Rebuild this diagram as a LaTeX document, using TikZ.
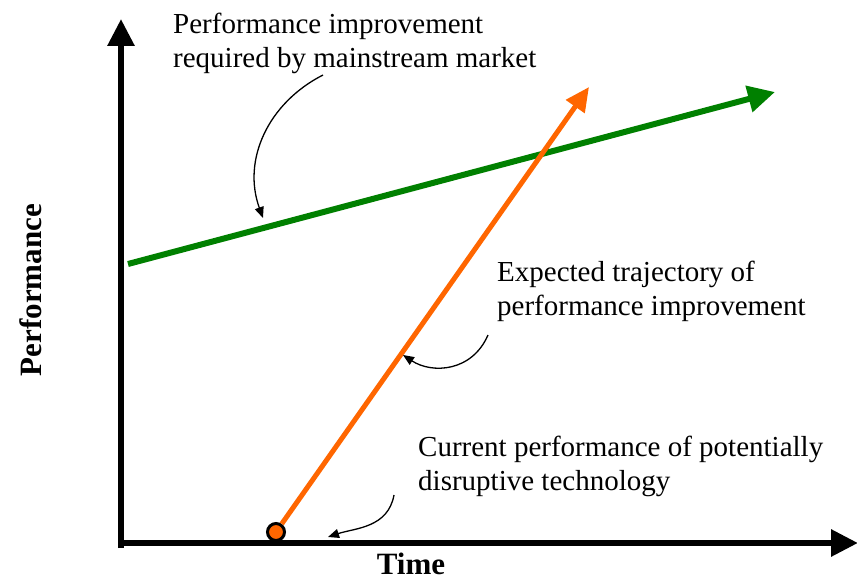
\documentclass[tikz,border=0pt]{standalone}
\usepackage{fontspec}
\setmainfont{Liberation Serif}
\usetikzlibrary{arrows.meta}
\definecolor{mygreen}{RGB}{0,128,0}
\definecolor{myorange}{RGB}{255,102,0}
\begin{document}
\begin{tikzpicture}[x=1pt,y=-1pt,
  lbl/.style={inner sep=0pt,anchor=base west,align=left,font=\fontsize{29}{34}\selectfont},
  axislbl/.style={inner sep=0pt,font=\fontsize{31}{36}\selectfont\bfseries},
  axis/.style={line width=6pt,-{Triangle[length=27pt,width=26pt]}},
  note/.style={line width=1.3pt,-{Triangle[length=11pt,width=9pt]}}]
\useasboundingbox (0,0) rectangle (857,586);
% axes
\coordinate (ytop) at (121,19);
\coordinate (xend) at (858,543);
\draw[axis] (121,548) -- (ytop);
\draw[axis] (118,543) -- (xend);
% axis labels
\node[axislbl,rotate=90] (perf) at (31,290) {Performance};
\node[axislbl,anchor=base] (time) at (411,574) {Time};
% green line
\coordinate (g0) at (128,264);
\coordinate (g1) at (775,92);
\draw[mygreen,line width=6pt,-{Triangle[length=27pt,width=26pt]}] (g0) -- (g1);
% orange line
\node[circle,draw=black,fill=myorange,line width=3pt,minimum size=17pt,inner sep=0pt] (start) at (276,532) {};
\coordinate (o1) at (589,87);
\draw[myorange,line width=5pt,-{Triangle[length=24pt,width=22pt]}] (start) -- (o1);
% texts
\node[lbl] (t1) at (173,67) {Performance improvement\\required by mainstream market};
\node[lbl] (t2) at (497,315) {Expected trajectory of\\performance improvement};
\node[lbl] (t3) at (418,490) {Current performance of potentially\\disruptive technology};
% annotation arrows
\coordinate (a1s) at (323,75);
\coordinate (a1e) at (263,218);
\draw[note] (a1s) .. controls (268,103) and (242,160) .. (a1e);
\coordinate (a2s) at (488,335);
\coordinate (a2e) at (403,355);
\draw[note] (a2s) .. controls (472,372) and (432,374) .. (a2e);
\coordinate (a3s) at (394,495);
\coordinate (a3e) at (328,537);
\draw[note] (a3s) .. controls (388,528) and (355,528) .. (a3e);
\end{tikzpicture}
\end{document}
